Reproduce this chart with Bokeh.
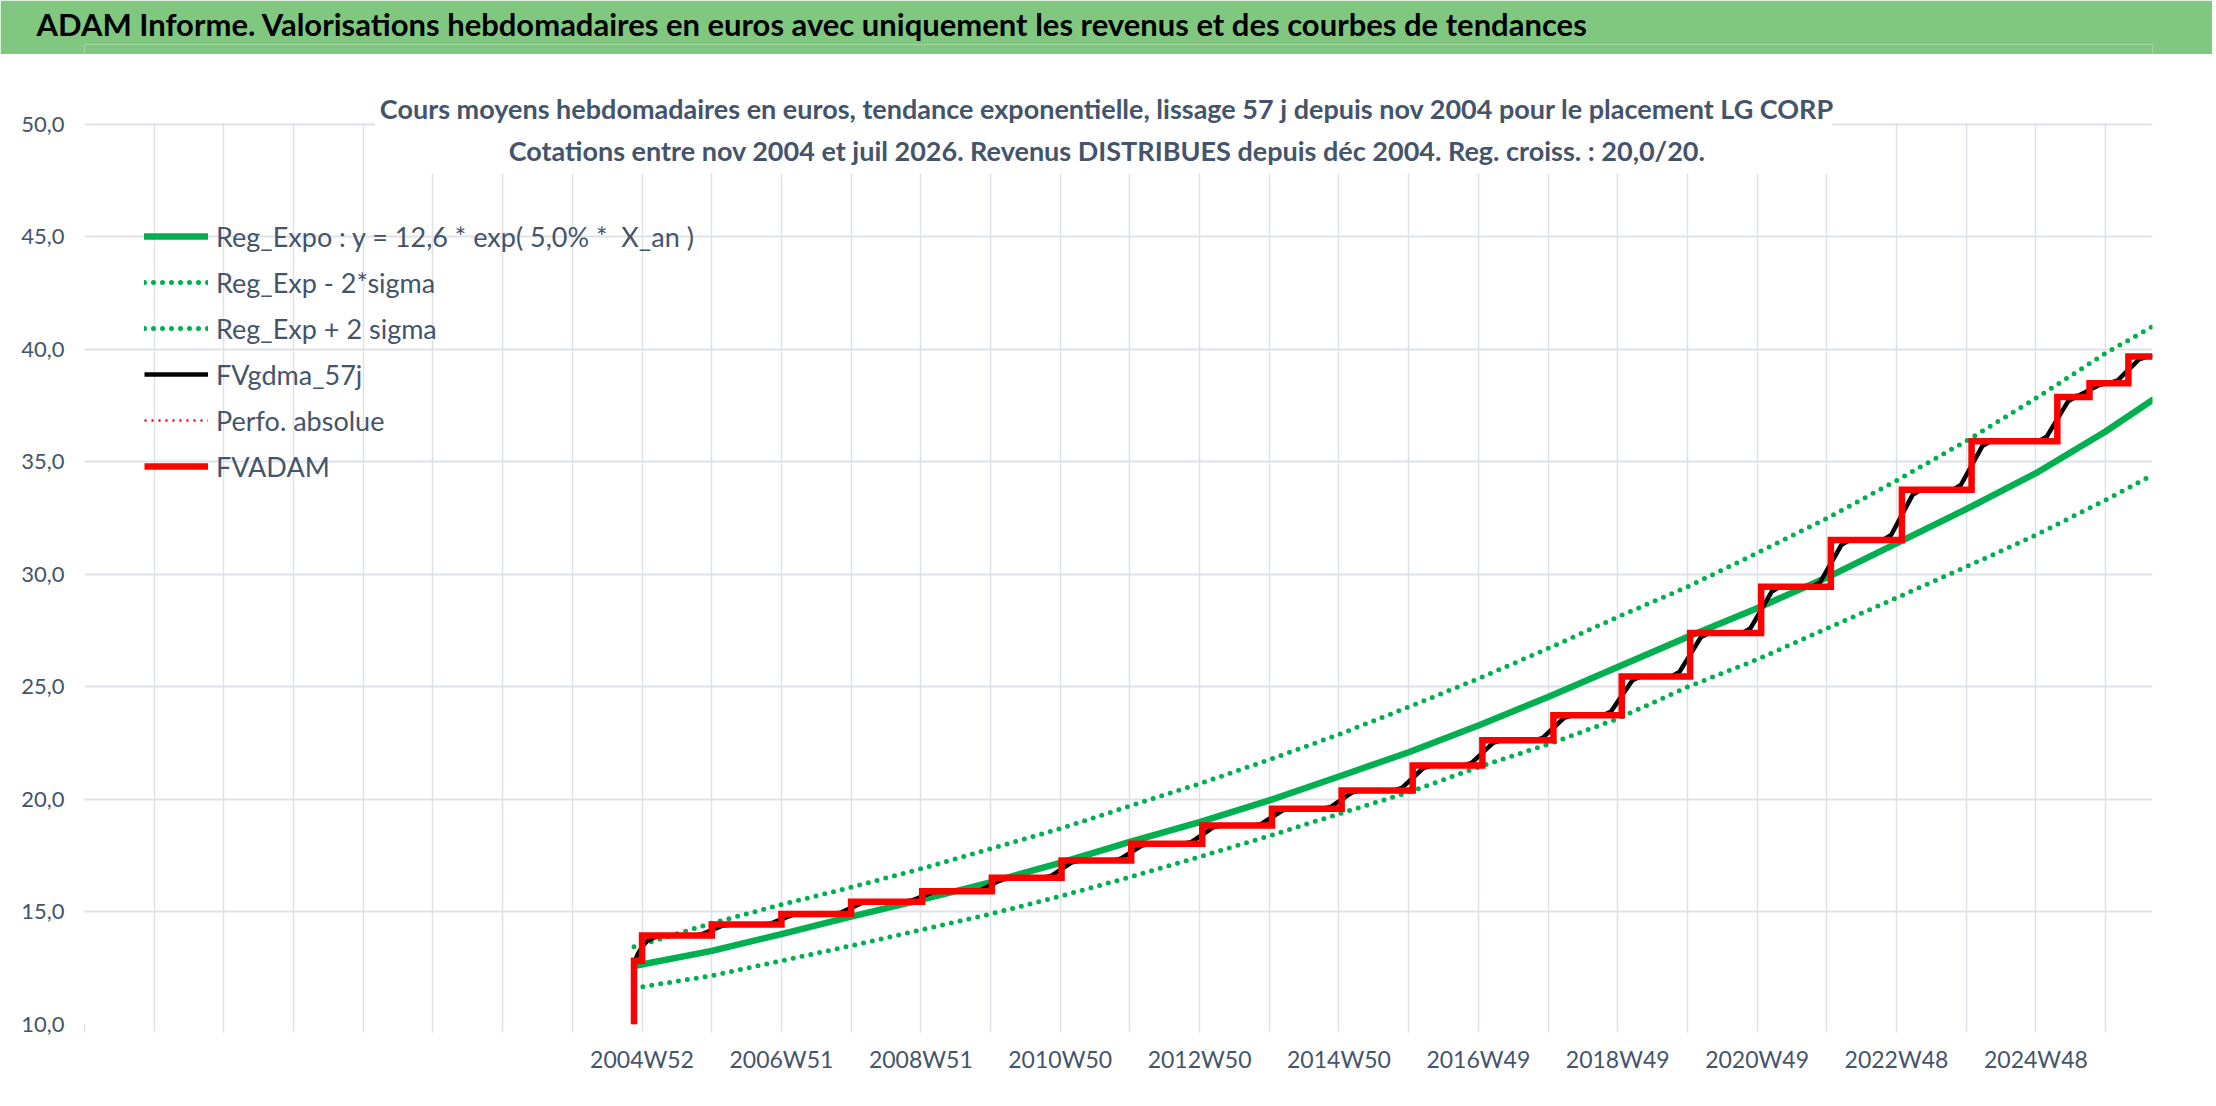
from bokeh.plotting import figure
from bokeh.layouts import column
from bokeh.models import Range1d, FixedTicker, Label, BoxAnnotation, Legend, LegendItem, Title
from bokeh.embed import file_html
from bokeh.resources import INLINE

# ---------------- data ----------------
header_text = "ADAM Informe. Valorisations hebdomadaires en euros avec uniquement les revenus et des courbes de tendances"
subtitle_1 = "Cours moyens hebdomadaires en euros, tendance exponentielle, lissage 57 j depuis nov 2004 pour le placement LG CORP"
subtitle_2 = "Cotations entre nov 2004 et juil 2026. Revenus DISTRIBUES depuis d\u00e9c 2004. Reg. croiss. : 20,0/20."

# x axis: one unit = one week, category ticks every 52 weeks
x_tick_labels = ["2004W52", "2006W51", "2008W51", "2010W50", "2012W50", "2014W50",
                 "2016W49", "2018W49", "2020W49", "2022W48", "2024W48"]
x_label_first_week = 416
x_label_every = 104
x_tick_every = 52
x_weeks_total = 1543

y_tick_values = [10, 15, 20, 25, 30, 35, 40, 45, 50]
y_tick_labels = ["10,0", "15,0", "20,0", "25,0", "30,0", "35,0", "40,0", "45,0", "50,0"]

# trend curves (values read at the start, at each yearly tick and at the end)
trend_weeks = [410, 468, 520, 572, 624, 676, 728, 780, 832, 884, 936, 988, 1040, 1092,
               1144, 1196, 1248, 1300, 1352, 1404, 1456, 1508, 1543]
reg_expo = [12.60, 13.27, 14.02, 14.79, 15.54, 16.32, 17.18, 18.12, 18.99, 19.96, 21.02, 22.10,
            23.29, 24.55, 25.89, 27.22, 28.50, 29.86, 31.38, 32.90, 34.50, 36.35, 37.76]
reg_minus_2sigma = [11.62, 12.17, 12.83, 13.50, 14.20, 14.91, 15.70, 16.55, 17.45, 18.38, 19.36, 20.32,
                    21.44, 22.45, 23.59, 25.00, 26.22, 27.60, 28.96, 30.34, 31.75, 33.31, 34.42]
reg_plus_2sigma = [13.45, 14.50, 15.33, 16.10, 16.92, 17.81, 18.70, 19.71, 20.70, 21.77, 22.89, 24.11,
                   25.37, 26.71, 28.11, 29.45, 30.95, 32.49, 34.17, 35.93, 37.83, 39.83, 41.02]

# FVADAM: level reached at each week where a revenue is added (step curve)
fvadam_weeks = [410, 410, 416, 468, 520, 572, 625, 677, 729, 781, 834, 886, 938, 991,
                1043, 1096, 1147, 1198, 1251, 1303, 1356, 1408, 1472, 1496, 1525, 1543]
fvadam_values = [10.00, 12.83, 13.95, 14.44, 14.91, 15.46, 15.92, 16.52, 17.29, 18.03, 18.84, 19.59,
                 20.40, 21.51, 22.63, 23.74, 25.47, 27.40, 29.45, 31.53, 33.76, 35.92, 37.89,
                 38.50, 39.68, 39.68]

# FVgdma_57j: smoothed curve; start read directly, then the S shape seen around every step
gdma_start_weeks = [410, 413, 416, 420, 428]
gdma_start_values = [12.75, 13.15, 13.45, 13.72, 13.95]
gdma_ramp_offsets = [-14, -8, -4, 0, 4, 8, 14]
gdma_ramp_share = [0.0, 0.10, 0.30, 0.5, 0.70, 0.90, 1.0]

# ---------------- styles ----------------
GREEN = "#00B050"
RED = "#FF0000"
SLATE = "#44546A"
GRID = "#DEE2E8"
HEADER_GREEN = "#80C880"
FONT = "Lato"

# build the smoothed series table from the step data
gdma_x = list(gdma_start_weeks)
gdma_y = list(gdma_start_values)
for k in range(3, len(fvadam_weeks) - 1):
    old, new, s = fvadam_values[k - 1], fvadam_values[k], fvadam_weeks[k]
    for off, share in zip(gdma_ramp_offsets, gdma_ramp_share):
        gdma_x.append(s + off)
        gdma_y.append(old + share * (new - old))
gdma_x.append(fvadam_weeks[-1])
gdma_y.append(fvadam_values[-1])

W = 2212

# ---------------- header band ----------------
hdr = figure(width=W, height=54, toolbar_location=None, output_backend="svg",
             x_axis_location=None, y_axis_location=None,
             min_border_top=0, min_border_bottom=0,
             background_fill_color=HEADER_GREEN, border_fill_color=HEADER_GREEN,
             outline_line_color=None, title=None)
hdr.grid.visible = False
hdr.add_layout(Title(text=header_text, align="left", offset=-48, standoff=4,
                     text_font=FONT, text_font_size="31px", text_font_style="bold",
                     text_color="black"), "above")

# ---------------- main chart ----------------
p = figure(width=W, height=1048, x_range=Range1d(0, x_weeks_total), y_range=Range1d(10, 52.75),
           toolbar_location=None, output_backend="svg",
           min_border_left=84, min_border_right=60, min_border_top=8, min_border_bottom=78,
           background_fill_color="white", border_fill_color="white", outline_line_color=None)

x_ticks = list(range(0, x_weeks_total - 30, x_tick_every))
x_overrides = {t: "" for t in x_ticks}
for i, lab in enumerate(x_tick_labels):
    x_overrides[x_label_first_week + i * x_label_every] = lab

p.xaxis.ticker = FixedTicker(ticks=x_ticks)
p.xgrid.ticker = FixedTicker(ticks=x_ticks)
p.xaxis.major_label_overrides = x_overrides
p.yaxis.ticker = FixedTicker(ticks=y_tick_values)
p.ygrid.ticker = FixedTicker(ticks=y_tick_values)
p.yaxis.major_label_overrides = dict(zip(y_tick_values, y_tick_labels))

p.xgrid.grid_line_color = GRID
p.xgrid.grid_line_width = 1.5
p.ygrid.grid_line_color = GRID
p.ygrid.grid_line_width = 2

for ax in (p.xaxis, p.yaxis):
    ax.axis_line_color = None
    ax.minor_tick_line_color = None
    ax.major_label_text_font = FONT
    ax.major_label_text_color = SLATE
p.xaxis.major_tick_in = 0
p.xaxis.major_tick_out = 8
p.xaxis.major_tick_line_color = GRID
p.xaxis.major_tick_line_width = 1.5
p.xaxis.major_label_standoff = 12
p.xaxis.major_label_text_font_size = "23px"
p.yaxis.major_tick_line_color = None
p.yaxis.major_tick_in = 0
p.yaxis.major_tick_out = 0
p.yaxis.major_label_standoff = 20
p.yaxis.major_label_text_font_size = "22px"

# white areas: above the 50 line and behind the chart title (they hide the grid there)
p.add_layout(BoxAnnotation(bottom=50.06, fill_color="white", fill_alpha=1.0, line_color=None))
p.add_layout(BoxAnnotation(left=217, right=1304, bottom=47.82, top=50.2,
                           fill_color="white", fill_alpha=1.0, line_color=None))
p.add_layout(Label(x=763, y=50.71, text=subtitle_1, text_align="center", text_baseline="middle",
                   text_font=FONT, text_font_size="27px", text_font_style="bold", text_color=SLATE))
p.add_layout(Label(x=763, y=48.84, text=subtitle_2, text_align="center", text_baseline="middle",
                   text_font=FONT, text_font_size="27px", text_font_style="bold", text_color=SLATE))

r_reg = p.line(trend_weeks, reg_expo, line_color=GREEN, line_width=6.5, line_cap="round", line_join="round")
r_minus = p.line(trend_weeks, reg_minus_2sigma, line_color=GREEN, line_width=5, line_dash="0 9", line_cap="round")
r_plus = p.line(trend_weeks, reg_plus_2sigma, line_color=GREEN, line_width=5, line_dash="0 9", line_cap="round")
r_gdma = p.line(gdma_x, gdma_y, line_color="black", line_width=4.5, line_join="round")
r_perf = p.step(fvadam_weeks, fvadam_values, mode="after", line_color=RED, line_width=2.5, line_dash="2 5")
r_fv = p.step(fvadam_weeks, fvadam_values, mode="after", line_color=RED, line_width=6.5, line_join="miter")

legend = Legend(items=[
    LegendItem(label="Reg_Expo : y = 12,6 * exp( 5,0% *  X_an )", renderers=[r_reg]),
    LegendItem(label="Reg_Exp - 2*sigma", renderers=[r_minus]),
    LegendItem(label="Reg_Exp + 2 sigma", renderers=[r_plus]),
    LegendItem(label="FVgdma_57j", renderers=[r_gdma]),
    LegendItem(label="Perfo. absolue", renderers=[r_perf]),
    LegendItem(label="FVADAM", renderers=[r_fv]),
], location=(60, 538), margin=0, padding=0, glyph_width=64, glyph_height=40, label_height=40,
    spacing=6, label_standoff=8, background_fill_alpha=0, border_line_color=None,
    label_text_font=FONT, label_text_font_size="27px", label_text_color=SLATE)
p.add_layout(legend)

page = column(hdr, p, spacing=0)
open("out.html", "w").write(file_html(page, INLINE))
